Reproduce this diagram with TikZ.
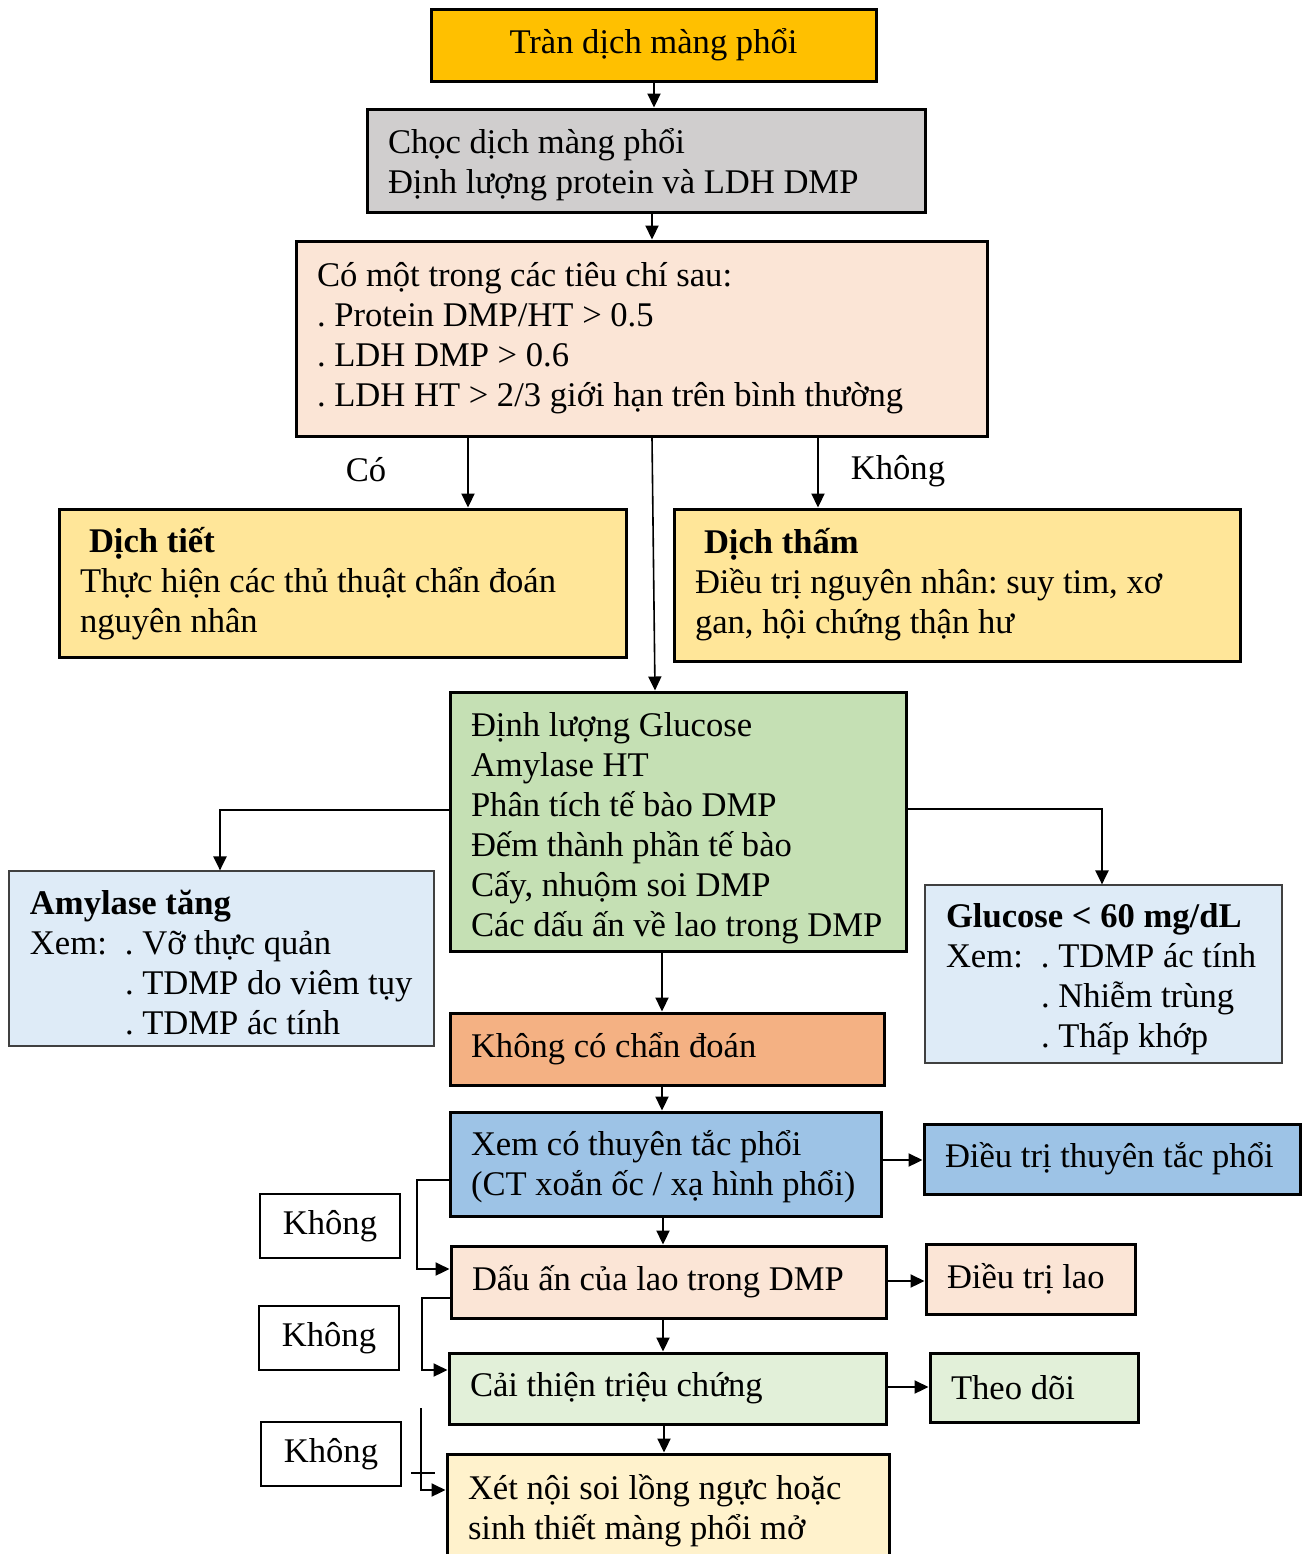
\documentclass[tikz,border=0pt]{standalone}
\usepackage{fontspec}
\setmainfont{Liberation Serif}
\usetikzlibrary{arrows.meta}
\frenchspacing

\definecolor{toporange}{HTML}{FFC000}
\definecolor{chocgray}{HTML}{D0CECE}
\definecolor{peach}{HTML}{FBE5D6}
\definecolor{sand}{HTML}{FFE699}
\definecolor{testgreen}{HTML}{C5E0B4}
\definecolor{paleblue}{HTML}{DEEBF7}
\definecolor{salmon}{HTML}{F4B183}
\definecolor{midblue}{HTML}{9DC3E6}
\definecolor{palegreen}{HTML}{E2F0D9}
\definecolor{cream}{HTML}{FFF2CC}

\newcommand{\fs}{\fontsize{17.3}{20}\selectfont}
\newcommand{\xem}{\makebox[47.5pt][l]{Xem:}}
% plain word spaces, lines never wrap
\newcommand{\lines}[2][2.5pt]{\spaceskip=0pt\xspaceskip=0pt%
  \raisebox{-#1}[\height][\depth]{\begin{tabular}{@{}l@{}}#2\end{tabular}}}
\newcommand{\oneline}[1]{\spaceskip=0pt\xspaceskip=0pt\mbox{#1}}

\tikzset{
  box/.style={draw, line width=1.5pt, inner xsep=10.5pt, inner ysep=0pt, font=\fs},
  lbox/.style={box, align=left},
  infobox/.style={lbox, draw=black!75, line width=0.6pt},
  nobox/.style={draw, line width=0.8pt, inner sep=0pt, font=\fs,
                minimum width=70pt, minimum height=32pt},
  arr/.style={line width=1.1pt, -{Triangle[length=7pt,width=6.5pt]}},
  lbl/.style={font=\fs}
}

\begin{document}
\begin{tikzpicture}[x=0.5pt,y=-0.5pt]

\useasboundingbox (0,0) rectangle (1310,1554);

% main column
\node[box, fill=toporange, minimum width=222.5pt, minimum height=36pt] (tran) at (653.5,45) {Tràn dịch màng phổi};
\node[lbox, fill=chocgray, text width=258pt, minimum height=51.5pt] (choc) at (646,160.5)
  {\lines{Chọc dịch màng phổi\\Định lượng protein và LDH DMP}};
\node[lbox, fill=peach, text width=324.5pt, minimum height=97.5pt] (crit) at (641.5,338.5)
  {\lines[0pt]{Có một trong các tiêu chí sau:\\. Protein DMP/HT > 0.5\\. LDH DMP > 0.6\\. LDH HT > 2/3 giới hạn trên bình thường}};

\node[lbox, fill=sand, text width=262.5pt, minimum height=74pt] (tiet) at (342.5,583)
  {\lines[0.5pt]{\hspace{4.5pt}\textbf{Dịch tiết}\\Thực hiện các thủ thuật chẩn đoán\\nguyên nhân}};
\node[lbox, fill=sand, text width=262pt, minimum height=76pt] (tham) at (957,585)
  {\lines[0pt]{\hspace{4.5pt}\textbf{Dịch thấm}\\Điều trị nguyên nhân: suy tim, xơ\\gan, hội chứng thận hư}};

\node[lbox, fill=testgreen, text width=207pt, minimum height=129.5pt] (green) at (678,821.5)
  {\lines[3.5pt]{Định lượng Glucose\\Amylase HT\\Phân tích tế bào DMP\\Đếm thành phần tế bào\\Cấy, nhuộm soi DMP\\Các dấu ấn về lao trong DMP}};

\node[infobox, fill=paleblue, text width=191.5pt, minimum height=87.5pt] (amyl) at (221.5,958.5)
  {\lines[4pt]{\textbf{Amylase tăng}\\\xem. Vỡ thực quản\\\hspace{47.5pt}. TDMP do viêm tụy\\\hspace{47.5pt}. TDMP ác tính}};
\node[infobox, fill=paleblue, text width=157.5pt, minimum height=89pt] (gluc) at (1103.5,974)
  {\lines{\textbf{Glucose < 60 mg/dL}\\\xem. TDMP ác tính\\\hspace{47.5pt}. Nhiễm trùng\\\hspace{47.5pt}. Thấp khớp}};

\node[lbox, fill=salmon, text width=196pt, minimum height=36pt] (nocd) at (667,1049) {\oneline{Không có chẩn đoán}};
\node[lbox, fill=midblue, text width=194.5pt, minimum height=52pt] (xemtt) at (665.5,1164)
  {\lines[1.5pt]{Xem có thuyên tắc phổi\\(CT xoắn ốc / xạ hình phổi)}};
\node[lbox, fill=midblue, text width=167pt, minimum height=35pt] (dttt) at (1112,1159) {\oneline{Điều trị thuyên tắc phổi}};
\node[lbox, fill=peach, text width=196.5pt, minimum height=36pt] (dau) at (668.5,1282) {\oneline{Dấu ấn của lao trong DMP}};
\node[lbox, fill=peach, text width=83.5pt, minimum height=35pt] (lao) at (1030.5,1279) {\oneline{Điều trị lao}};
\node[lbox, fill=palegreen, text width=197.5pt, minimum height=35.5pt] (cai) at (667.5,1388.5) {\oneline{Cải thiện triệu chứng}};
\node[lbox, fill=palegreen, text width=83pt, minimum height=34.5pt] (theo) at (1034,1387.5) {\oneline{Theo dõi}};
\node[lbox, fill=cream, text width=200pt, minimum height=55pt] (xet) at (668,1509)
  {\lines[1pt]{Xét nội soi lồng ngực hoặc\\sinh thiết màng phổi mở}};

% labels
\node[lbl] (co) at (366,470) {Có};
\node[lbl] (khong) at (898,471) {Không};
\node[nobox] (k1) at (330,1226) {Không};
\node[nobox] (k2) at (329,1338) {Không};
\node[nobox] (k3) at (331,1454) {Không};

% arrows down the column
\draw[arr] (tran.south -| 654,0) -- (choc.north -| 654,0);
\draw[arr] (choc.south -| 652,0) -- (crit.north -| 652,0);
\draw[arr] (crit.south -| 468,0) -- (tiet.north -| 468,0);
\draw[arr] (crit.south -| 818,0) -- (tham.north -| 818,0);
\draw[arr, line width=0.8pt] (crit.south -| 652,0) -- (green.north -| 655,0);
\draw[arr] (green.west |- 0,810) -| (amyl.north -| 220,0);
\draw[arr] (green.east |- 0,809) -| (gluc.north -| 1102,0);
\draw[arr] (green.south -| 662,0) -- (nocd.north -| 662,0);
\draw[arr] (nocd.south -| 662,0) -- (xemtt.north -| 662,0);
\draw[arr] (xemtt.south -| 663,0) -- (dau.north -| 663,0);
\draw[arr] (dau.south -| 663,0) -- (cai.north -| 663,0);
\draw[arr] (cai.south -| 664,0) -- (xet.north -| 664,0);

% arrows to the right
\draw[arr] (xemtt.east |- 0,1160) -- (dttt.west |- 0,1160);
\draw[arr] (dau.east |- 0,1281) -- (lao.west |- 0,1281);
\draw[arr] (cai.east |- 0,1387) -- (theo.west |- 0,1387);

% "Khong" loops on the left
\coordinate (loopa) at (417,1180);
\coordinate (loopb) at (422,1298);
\coordinate (loopc) at (421,1408);
\draw[arr] (xemtt.west |- loopa) -- (loopa) |- (dau.west |- 0,1269);
\draw[arr] (dau.west |- loopb) -- (loopb) |- (cai.west |- 0,1370);
\draw[arr] (loopc) |- (xet.west |- 0,1490);
\draw[line width=0.8pt] (411,1473) -- (435,1473);

\end{tikzpicture}
\end{document}
